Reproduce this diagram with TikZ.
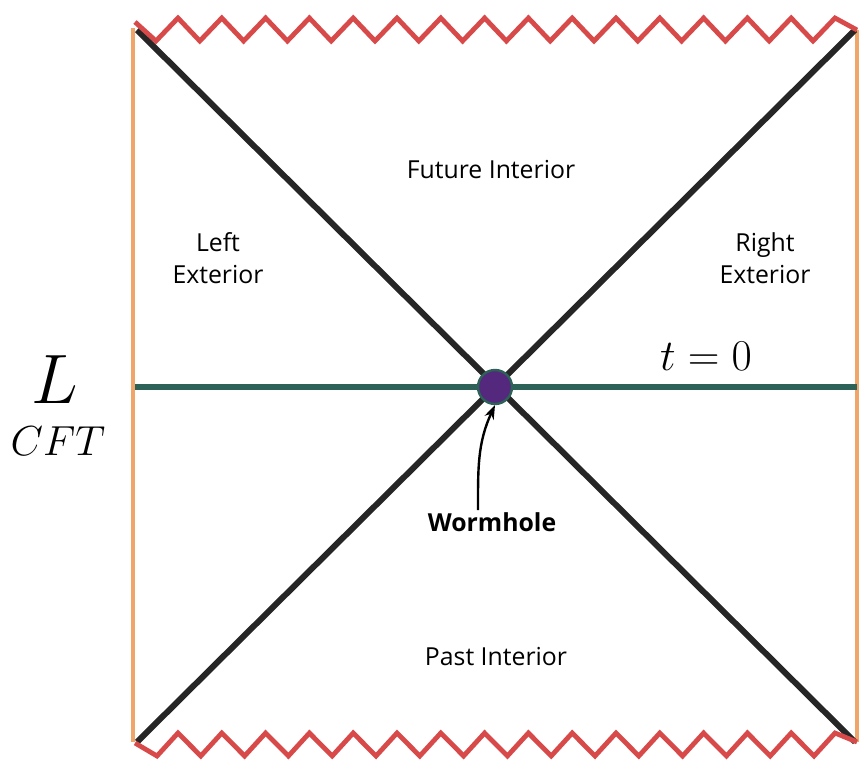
\RequirePackage{fix-cm}
\documentclass[tikz,border=0pt]{standalone}
\usepackage{fontspec}
\setsansfont{Open Sans}
\usetikzlibrary{arrows.meta}

\definecolor{singred}{RGB}{216,74,74}
\definecolor{bdyorange}{RGB}{240,165,105}
\definecolor{slicegreen}{RGB}{45,98,88}
\definecolor{holepurple}{RGB}{84,40,125}

\begin{document}
\begin{tikzpicture}[
  x=0.5pt, y=-0.5pt,
  every node/.style={font=\sffamily\fontsize{12.4}{16}\selectfont},
  region/.style={align=center, inner sep=1pt},
  horizon/.style={line width=3pt, draw=black!85},
  singular/.style={line width=2.4pt, draw=singred, line join=miter},
  boundary/.style={line width=1.8pt, draw=bdyorange},
  slice/.style={line width=3pt, draw=slicegreen},
  arrow/.style={-{Stealth[length=7pt, width=5pt]}, line width=1.2pt, draw=black}
]
\useasboundingbox (0,0) rectangle (866,764);

% corners of the diagram
\coordinate (tl) at (137,30);
\coordinate (tr) at (855,30);
\coordinate (bl) at (137,742);
\coordinate (br) at (855,742);
\coordinate (sl) at (135,387);
\coordinate (sr) at (857,387);

% boundaries (CFTs)
\draw[boundary] (133,28) -- (133,742);
\draw[boundary] (857,30) -- (857,742);

% t = 0 slice
\draw[slice] (sl) -- (sr);

% horizons
\draw[horizon] (tl) -- (br);
\draw[horizon] (tr) -- (bl);

% singularities
\draw[singular] (135,22)
  foreach \k in {0,...,15} { -- ({156+43.8*\k},41) -- ({178+43.8*\k},18) }
  -- (857,30);
\draw[singular] (135,743)
  foreach \k in {0,...,15} { -- ({157+43.8*\k},756) -- ({178+43.8*\k},733) }
  -- (857,742);

% wormhole
\node[circle, minimum size=17pt, inner sep=0pt, fill=holepurple,
      draw=slicegreen, line width=1.2pt] (hole) at (495,387) {};

% region labels
\node[region] (future) at (491,170) {Future Interior};
\node[region] (past) at (496,657) {Past Interior};
\node[region] (left) at (218,258) {Left\\Exterior};
\node[region] (right) at (765,258) {Right\\Exterior};
\node[region, font=\sffamily\bfseries\fontsize{12.4}{16}\selectfont] (worm) at (492,522) {Wormhole};

\node (tzero) at (706,356) {\fontsize{22}{26}\selectfont$t=0$};
\node (ell) at (55,380) {\fontsize{35}{40}\selectfont$L$};
\node (cft) at (58,441) {\fontsize{21}{24}\selectfont$CFT$};

\draw[arrow] ([xshift=-7pt]worm.north) to[out=90, in=-115] (hole.south);

\end{tikzpicture}
\end{document}
